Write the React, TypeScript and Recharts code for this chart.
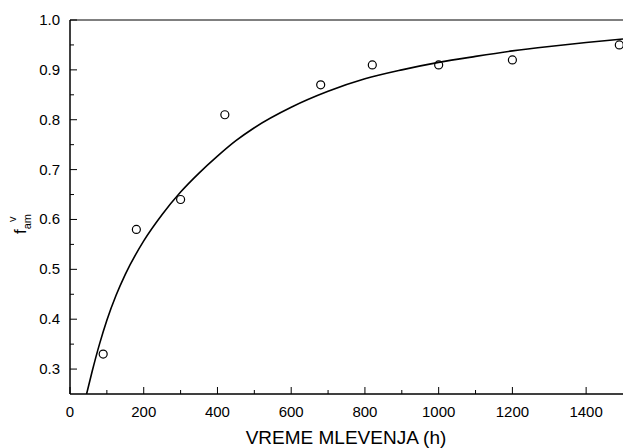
import { ComposedChart, Line, Scatter, XAxis, YAxis, ReferenceLine } from "recharts";

// measured points (milling time in hours vs amorphous fraction)
const millingHours = [90, 180, 300, 420, 680, 820, 1000, 1200, 1490];
const amorphousFraction = [0.33, 0.58, 0.64, 0.81, 0.87, 0.91, 0.91, 0.92, 0.95];

// fitted curve
const fitHours = [45, 60, 80, 100, 125, 150, 200, 250, 300, 350, 400, 450, 500, 600, 700, 800, 900, 1000, 1100, 1200, 1300, 1400, 1500];
const fitValues = [0.25, 0.295, 0.35, 0.398, 0.448, 0.49, 0.557, 0.61, 0.655, 0.693, 0.727, 0.758, 0.784, 0.825, 0.857, 0.882, 0.9, 0.915, 0.927, 0.938, 0.947, 0.955, 0.962];

const xTicks = [0, 100, 200, 300, 400, 500, 600, 700, 800, 900, 1000, 1100, 1200, 1300, 1400];
const xLabels = [0, 200, 400, 600, 800, 1000, 1200, 1400];
const yTicks = [0.3, 0.35, 0.4, 0.45, 0.5, 0.55, 0.6, 0.65, 0.7, 0.75, 0.8, 0.85, 0.9, 0.95, 1.0];
const yLabels = [0.3, 0.4, 0.5, 0.6, 0.7, 0.8, 0.9, 1.0];

const points = millingHours.map((x, i) => ({ x, y: amorphousFraction[i] }));
const fit = fitHours.map((x, i) => ({ x, y: fitValues[i] }));

const font = "'Liberation Sans', Arial, sans-serif";
const MAJOR = 7;
const MINOR = 4;

const BottomTick = (props: any) => {
  const { x, y, payload } = props;
  const major = xLabels.includes(payload.value);
  const base = y - 12;
  return (
    <g>
      <line x1={x} x2={x} y1={base} y2={base - (major ? MAJOR : MINOR)} stroke="#000" strokeWidth={1} />
      {major && (
        <text x={x} y={base + 23} textAnchor="middle" fontSize={15} fontFamily={font} fill="#000">
          {payload.value}
        </text>
      )}
    </g>
  );
};

const TopTick = (props: any) => {
  const { x, y, payload } = props;
  const major = xLabels.includes(payload.value);
  return <line x1={x} x2={x} y1={y} y2={y + (major ? MAJOR : MINOR)} stroke="#000" strokeWidth={1} />;
};

const LeftTick = (props: any) => {
  const { x, y, payload } = props;
  const major = yLabels.includes(payload.value);
  const base = x + 10;
  return (
    <g>
      <line x1={base} x2={base + (major ? MAJOR : MINOR)} y1={y} y2={y} stroke="#000" strokeWidth={1} />
      {major && (
        <text x={x} y={y + 5} textAnchor="end" fontSize={15} fontFamily={font} fill="#000">
          {payload.value.toFixed(1)}
        </text>
      )}
    </g>
  );
};

const RightTick = (props: any) => {
  const { x, y, payload } = props;
  const major = yLabels.includes(payload.value);
  return <line x1={x} x2={x - (major ? MAJOR : MINOR)} y1={y} y2={y} stroke="#000" strokeWidth={1} />;
};

const YTitle = () => (
  <text transform="translate(26, 234) rotate(-90)" fontFamily={font} fill="#000" fontSize={17}>
    f
    <tspan fontSize={11} dy={5}>am</tspan>
    <tspan fontSize={11} dx={-8} dy={-15}>v</tspan>
  </text>
);

const XTitle = () => (
  <text x={346} y={444} textAnchor="middle" fontFamily={font} fill="#000" fontSize={19}>
    VREME MLEVENJA (h)
  </text>
);

const Circle = (props: any) => (
  <circle cx={props.cx} cy={props.cy} r={4} fill="none" stroke="#000" strokeWidth={1.2} />
);

export default function App() {
  return (
    <div style={{ position: "absolute", left: 0, top: 0, background: "#fff" }}>
      <ComposedChart width={623} height={448} margin={{ top: 20, right: 0, bottom: 0, left: 0 }}>
        <XAxis
          xAxisId="bottom"
          dataKey="x"
          type="number"
          domain={[0, 1500]}
          ticks={xTicks}
          allowDataOverflow
          tickSize={0}
          tickMargin={12}
          height={54}
          axisLine={{ stroke: "#000", strokeWidth: 1 }}
          tick={BottomTick}
          label={{ content: XTitle }}
        />
        <XAxis
          xAxisId="top"
          orientation="top"
          dataKey="x"
          type="number"
          domain={[0, 1500]}
          ticks={xTicks}
          allowDataOverflow
          tickSize={0}
          tickMargin={0}
          height={0}
          axisLine={{ stroke: "#000", strokeWidth: 1 }}
          tick={TopTick}
        />
        <YAxis
          yAxisId="left"
          type="number"
          domain={[0.25, 1.0]}
          ticks={yTicks}
          allowDataOverflow
          tickSize={0}
          tickMargin={10}
          width={70}
          axisLine={{ stroke: "#000", strokeWidth: 1 }}
          tick={LeftTick}
          label={{ content: YTitle }}
        />
        <YAxis
          yAxisId="right"
          orientation="right"
          type="number"
          domain={[0.25, 1.0]}
          ticks={yTicks}
          allowDataOverflow
          tickSize={0}
          tickMargin={0}
          width={0}
          axisLine={{ stroke: "#000", strokeWidth: 1 }}
          tick={RightTick}
        />
        <ReferenceLine xAxisId="bottom" yAxisId="left" x={0} stroke="#000" strokeWidth={1} />
        <ReferenceLine xAxisId="bottom" yAxisId="left" y={0.25} stroke="#000" strokeWidth={1} />
        <ReferenceLine xAxisId="bottom" yAxisId="left" y={1.0} stroke="#000" strokeWidth={1} />
        <Line
          xAxisId="bottom"
          yAxisId="left"
          data={fit}
          dataKey="y"
          type="monotone"
          stroke="#000"
          strokeWidth={1.6}
          dot={false}
          isAnimationActive={false}
        />
        <Scatter
          xAxisId="bottom"
          yAxisId="left"
          data={points}
          dataKey="y"
          shape={Circle}
          isAnimationActive={false}
        />
      </ComposedChart>
    </div>
  );
}
